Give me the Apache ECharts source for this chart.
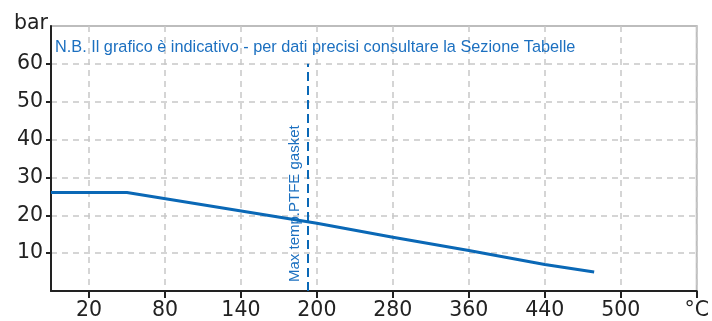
<!DOCTYPE html>
<html>
<head>
<meta charset="utf-8">
<script src="https://cdn.jsdelivr.net/npm/echarts@6/dist/echarts.min.js"></script>
<style>html,body{margin:0;padding:0;background:#fff;}#c{width:712px;height:321px;}</style>
</head>
<body>
<div id="c"></div>
<script>
// x axis is drawn in "slot" units (one slot per vertical grid line)
const xTickLabels = ['', '20', '', '80', '', '140', '', '200', '', '280', '', '360', '', '440', '', '500', '', '°C'];
const labelSlots = [1, 3, 5, 7, 9, 11, 13, 15, 17];
const yTickValues = [10, 20, 30, 40, 50, 60];
// pressure curve (slot position, bar)
const curveSlots = [0, 2, 7, 9, 11, 13, 14.3];
const curveBar = [26, 26, 17.9, 14.2, 10.7, 7.0, 5.0];
// max PTFE gasket temperature marker
const gasketSlot = 6.76;
const gasketTop = 60;
const noteText = 'N.B. Il grafico è indicativo - per dati precisi consultare la Sezione Tabelle';
const gasketLabel = 'Max temp.PTFE gasket';

const BLUE_LINE = '#0a68b6';
const BLUE_TEXT = '#1c70c0';
const AX = '#222';
const GRID = '#c8c8c8';

const chart = echarts.init(document.getElementById('c'), null, {renderer: 'canvas'});
chart.setOption({
  animation: false,
  backgroundColor: '#fff',
  title: {
    text: noteText,
    left: 55, top: 40, padding: 0,
    textStyle: {color: BLUE_TEXT, fontSize: 16.3, fontWeight: 'normal', fontFamily: '"Liberation Sans", Arial, sans-serif'}
  },
  grid: {left: 51, right: 13, top: 26, bottom: 28, show: true, borderColor: '#bdbdbd', borderWidth: 2, backgroundColor: 'transparent'},
  xAxis: {
    type: 'value', min: 0, max: 17, interval: 1,
    axisLine: {show: true, onZero: false, lineStyle: {color: AX, width: 2}},
    axisTick: {show: true, customValues: labelSlots, length: 7, lineStyle: {color: AX, width: 2}},
    axisLabel: {customValues: labelSlots, margin: 9, color: AX, fontSize: 20.5, fontFamily: '"DejaVu Sans", sans-serif',
      formatter: v => xTickLabels[Math.round(v)] || ''},
    splitLine: {show: true, lineStyle: {color: GRID, type: [6, 5], width: 1.5}}
  },
  yAxis: {
    type: 'value', min: 0, max: 70, interval: 10,
    name: 'bar', nameLocation: 'end', nameGap: 2,
    nameTextStyle: {color: AX, fontSize: 20.5, fontFamily: '"DejaVu Sans", sans-serif', align: 'right', verticalAlign: 'middle', padding: [0, 3, 0, 0]},
    axisLine: {show: true, lineStyle: {color: AX, width: 2}},
    axisTick: {show: true, customValues: yTickValues, length: 5, lineStyle: {color: AX, width: 2}},
    axisLabel: {customValues: yTickValues, margin: 8, color: AX, fontSize: 20.5, fontFamily: '"DejaVu Sans", sans-serif'},
    splitLine: {show: true, lineStyle: {color: GRID, type: [6, 5], width: 1.5}}
  },
  series: [{
    type: 'line',
    data: curveSlots.map((s, i) => [s, curveBar[i]]),
    symbol: 'none',
    lineStyle: {color: BLUE_LINE, width: 3},
    z: 5,
    markLine: {
      silent: true,
      symbol: ['none', 'none'],
      lineStyle: {color: BLUE_LINE, width: 2, type: [9, 5]},
      label: {
        show: true, position: 'insideStartTop', distance: [9, 5],
        formatter: gasketLabel, color: BLUE_TEXT, fontSize: 15,
        fontFamily: '"Liberation Sans", Arial, sans-serif'
      },
      data: [[{coord: [gasketSlot, 0]}, {coord: [gasketSlot, gasketTop]}]]
    }
  }]
});
</script>
</body>
</html>
